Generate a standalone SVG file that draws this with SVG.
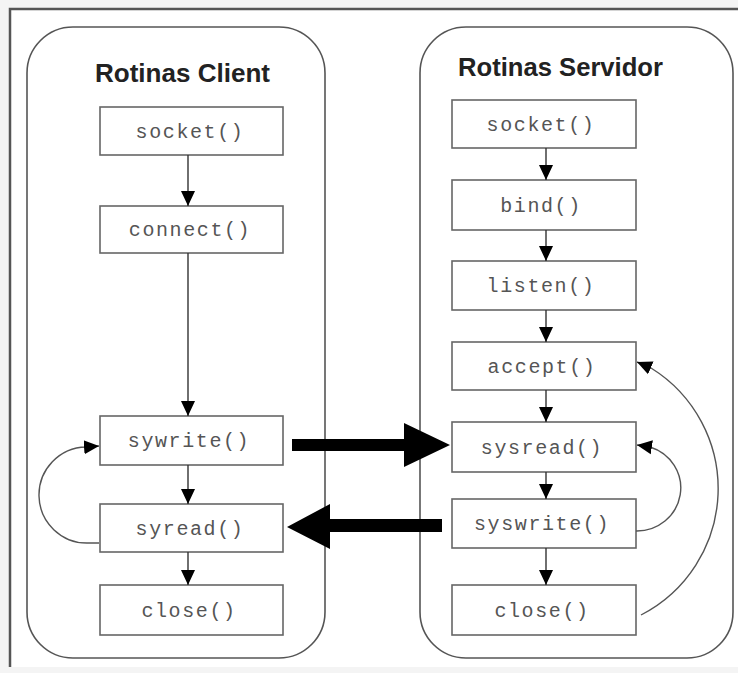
<svg xmlns="http://www.w3.org/2000/svg" width="738" height="673" viewBox="0 0 738 673">
<style>
.frame{fill:none;stroke:#555;stroke-width:2.5}
.cont{fill:none;stroke:#555;stroke-width:1.6}
.box{fill:#fff;stroke:#666;stroke-width:1.6}
.lbl{font-family:"Liberation Mono","Courier New",monospace;font-size:20px;fill:#555;text-anchor:middle;letter-spacing:1.6px}
.title{font-family:"Liberation Sans",Arial,sans-serif;font-size:26px;font-weight:bold;fill:#222;text-anchor:middle}
.ln{fill:none;stroke:#333;stroke-width:1.4;marker-end:url(#ah)}
.cv{fill:none;stroke:#555;stroke-width:1.4;marker-end:url(#ah)}
.big{fill:#000;stroke:none}
</style>
<defs>
<marker id="ah" markerUnits="userSpaceOnUse" markerWidth="16" markerHeight="16" viewBox="0 0 16 16" refX="15" refY="8" orient="auto">
<path d="M0,1 L15,8 L0,15 Z" fill="#000"/>
</marker>
</defs>
<rect x="0" y="0" width="738" height="673" fill="#f4f4f4"/>
<rect x="10" y="9" width="728" height="658" fill="#fff"/>
<path class="frame" d="M10,667 L10,9 L738,9"/>

<g id="client">
<rect class="cont" x="27" y="27" width="298" height="631" rx="46" ry="46"/>
<text class="title" x="182.5" y="82" textLength="175" lengthAdjust="spacingAndGlyphs">Rotinas Client</text>
</g>
<g id="server">
<rect class="cont" x="420" y="27" width="313" height="631" rx="46" ry="46"/>
<text class="title" x="560.5" y="76" textLength="205" lengthAdjust="spacingAndGlyphs">Rotinas Servidor</text>
</g>

<g id="c-socket"><rect class="box" x="100" y="107" width="183" height="48"/><text class="lbl" x="190" y="138">socket()</text></g>
<g id="c-connect"><rect class="box" x="100" y="206" width="183" height="47"/><text class="lbl" x="190" y="236">connect()</text></g>
<g id="c-sywrite"><rect class="box" x="100" y="416" width="183" height="49"/><text class="lbl" x="189" y="447">sywrite()</text></g>
<g id="c-syread"><rect class="box" x="100" y="504" width="183" height="48"/><text class="lbl" x="190" y="535">syread()</text></g>
<g id="c-close"><rect class="box" x="100" y="585" width="183" height="50"/><text class="lbl" x="189" y="617">close()</text></g>

<g id="s-socket"><rect class="box" x="452" y="100" width="184" height="48"/><text class="lbl" x="541" y="131">socket()</text></g>
<g id="s-bind"><rect class="box" x="452" y="180" width="184" height="50"/><text class="lbl" x="541" y="212">bind()</text></g>
<g id="s-listen"><rect class="box" x="452" y="261" width="184" height="49"/><text class="lbl" x="541" y="292">listen()</text></g>
<g id="s-accept"><rect class="box" x="452" y="342" width="184" height="48"/><text class="lbl" x="542" y="373">accept()</text></g>
<g id="s-sysread"><rect class="box" x="452" y="422" width="184" height="50"/><text class="lbl" x="542" y="454">sysread()</text></g>
<g id="s-syswrite"><rect class="box" x="452" y="499" width="184" height="49"/><text class="lbl" x="542" y="530">syswrite()</text></g>
<g id="s-close"><rect class="box" x="452" y="585" width="184" height="50"/><text class="lbl" x="542" y="617">close()</text></g>

<g id="connectors">
<path class="ln" d="M188,155 L188,206"/>
<path class="ln" d="M188,253 L188,416"/>
<path class="ln" d="M188,465 L188,504"/>
<path class="ln" d="M188,552 L188,585"/>
<path class="ln" d="M546,148 L546,180"/>
<path class="ln" d="M546,230 L546,261"/>
<path class="ln" d="M546,310 L546,342"/>
<path class="ln" d="M546,390 L546,422"/>
<path class="ln" d="M546,472 L546,499"/>
<path class="ln" d="M546,548 L546,585"/>
<path class="cv" d="M99,543 L88,543 A48,48 0 0 1 86,447 L99,446"/>
<path class="cv" d="M636,531 A44,43 0 0 0 650,447 L637,445"/>
<path class="cv" d="M641,615 A142,142 0 0 0 651,368 L637,362"/>
<polygon class="big" points="292,439 404,439 404,423 450,445 404,467 404,451 292,451"/>
<polygon class="big" points="442,519 330,519 330,504 287,527 330,549 330,532 442,532"/>
</g>
</svg>
